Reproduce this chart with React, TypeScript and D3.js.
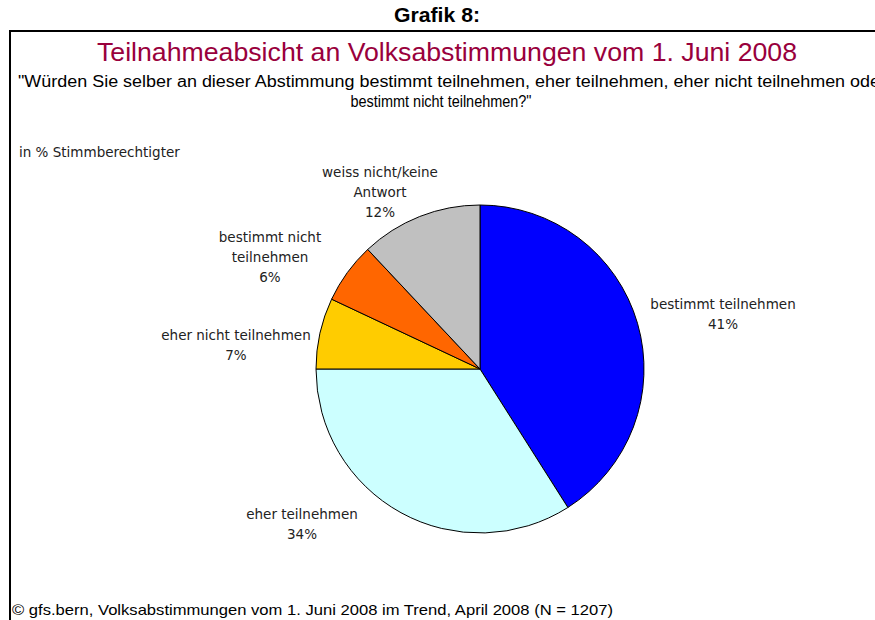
import React from "react";
import * as d3 from "d3";

const categories = [
  "bestimmt teilnehmen",
  "eher teilnehmen",
  "eher nicht teilnehmen",
  "bestimmt nicht teilnehmen",
  "weiss nicht/keine Antwort",
];
const values = [41, 34, 7, 6, 12];
const colors = ["#0000FF", "#CCFFFF", "#FFCC00", "#FF6600", "#C0C0C0"];
const labelLines = [
  ["bestimmt teilnehmen", "41%"],
  ["eher teilnehmen", "34%"],
  ["eher nicht teilnehmen", "7%"],
  ["bestimmt nicht", "teilnehmen", "6%"],
  ["weiss nicht/keine", "Antwort", "12%"],
];
// label anchor positions (centre x, first baseline y)
const labelPos: [number, number][] = [
  [723, 309],
  [302, 519],
  [236, 340],
  [270, 242],
  [380, 177],
];

export default function App() {
  const cx = 480, cy = 369, r = 164;
  const pie = d3.pie<number>().sort(null).value((d) => d)(values);
  const arc = d3.arc<d3.PieArcDatum<number>>().innerRadius(0).outerRadius(r);
  const labelFont = "'DejaVu Sans', Verdana, sans-serif";
  return (
    <svg width={875} height={620} style={{ position: "absolute", left: 0, top: 0 }}>
      <rect width={875} height={620} fill="#fff" />
      <text x={437} y={22} textAnchor="middle" fontFamily="'Liberation Sans', Arial, sans-serif" fontWeight="bold" fontSize={20} fill="#000" textLength={86} lengthAdjust="spacingAndGlyphs">Grafik 8:</text>
      <line x1={10} y1={31} x2={875} y2={31} stroke="#000" strokeWidth={2} />
      <line x1={10} y1={30} x2={10} y2={620} stroke="#000" strokeWidth={2} />
      <text x={447} y={61} textAnchor="middle" fontFamily="'Liberation Sans', Arial, sans-serif" fontSize={25} fill="#99003C" textLength={700} lengthAdjust="spacingAndGlyphs">Teilnahmeabsicht an Volksabstimmungen vom 1. Juni 2008</text>
      <text x={18} y={87} fontFamily="'Liberation Sans', Arial, sans-serif" fontSize={16} fill="#000" textLength={868} lengthAdjust="spacingAndGlyphs">"Würden Sie selber an dieser Abstimmung bestimmt teilnehmen, eher teilnehmen, eher nicht teilnehmen oder</text>
      <text x={441} y={107} textAnchor="middle" fontFamily="'Liberation Sans', Arial, sans-serif" fontSize={16} fill="#000" textLength={181} lengthAdjust="spacingAndGlyphs">bestimmt nicht teilnehmen?"</text>
      <text x={19} y={157} fontFamily={labelFont} fontSize={13.5} fill="#222">in % Stimmberechtigter</text>
      <g transform={`translate(${cx},${cy})`}>
        {pie.map((p, i) => (
          <path key={categories[i]} d={arc(p) || ""} fill={colors[i]} stroke="#000" strokeWidth={1} />
        ))}
      </g>
      {labelLines.map((lines, i) => (
        <text key={i} textAnchor="middle" fontFamily={labelFont} fontSize={13.5} fill="#222">
          {lines.map((l, j) => (
            <tspan key={j} x={labelPos[i][0]} y={labelPos[i][1] + j * 20}>{l}</tspan>
          ))}
        </text>
      ))}
      <rect x={11} y={600} width={864} height={20} fill="#fff" />
      <text x={12} y={615} fontFamily="'Liberation Sans', Arial, sans-serif" fontSize={15} fill="#000" textLength={601} lengthAdjust="spacingAndGlyphs">© gfs.bern, Volksabstimmungen vom 1. Juni 2008 im Trend, April 2008 (N = 1207)</text>
    </svg>
  );
}
